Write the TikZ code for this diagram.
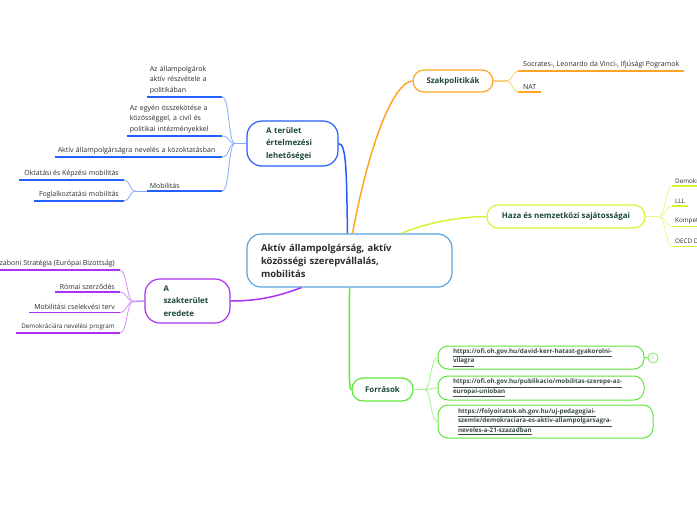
\documentclass[tikz,border=0pt]{standalone}
\usepackage{fontspec}
\setmainfont{Open Sans}
\usepackage{tikz}
\usetikzlibrary{calc}
\definecolor{mmcentral}{RGB}{91,163,220}
\definecolor{mmblue}{RGB}{35,95,255}
\definecolor{mmbluelt}{RGB}{135,170,255}
\definecolor{mmpurple}{RGB}{170,50,240}
\definecolor{mmpurplelt}{RGB}{205,145,250}
\definecolor{mmorange}{RGB}{255,165,35}
\definecolor{mmorangelt}{RGB}{255,205,130}
\definecolor{mmlime}{RGB}{212,245,55}
\definecolor{mmlimelt}{RGB}{230,250,140}
\definecolor{mmgreen}{RGB}{95,228,60}
\definecolor{mmgreenlt}{RGB}{165,240,145}
\definecolor{mmtitle}{RGB}{28,72,58}
\definecolor{mmtext}{RGB}{45,45,45}
\definecolor{mmlink}{RGB}{60,78,70}

\begin{document}
\begin{tikzpicture}[x=1pt, y=-1pt,
  topic/.style={draw, line width=1.2pt, rounded corners=11pt, text=mmtitle,
    font=\fontsize{7.9}{12.5}\selectfont\bfseries, inner ysep=0pt},
  leaf/.style={text=mmtext, font=\fontsize{7}{10.8}\selectfont,
    inner xsep=5pt, inner ysep=2.5pt},
  weblink/.style={draw=mmgreen, line width=1pt, rounded corners=10pt,
    text=mmlink, font=\fontsize{6.3}{9.4}\selectfont\bfseries, align=left,
    inner ysep=0pt},
  branch/.style={line width=1.5pt},
  stub/.style={line width=1.6pt},
  twig/.style={line width=0.8pt},
  uline/.style={line width=1.3pt}]

  \fill[white] (0,0) rectangle (697,520);
  \useasboundingbox (0,0) rectangle (697,520);

  % --- central topic ---
  \node[draw=mmcentral, line width=1.2pt, rounded corners=14pt, text=mmtext,
    font=\fontsize{9.5}{13}\selectfont\bfseries, align=left, text width=177pt,
    inner xsep=14pt, minimum height=53pt] (central) at (349.5,260.5)
    {Aktív állampolgárság, aktív\\közösségi szerepvállalás,\\mobilitás};

  % --- main topics ---
  \node[topic, draw=mmblue, rounded corners=15pt, align=left, text width=53pt,
    inner xsep=19pt, minimum height=45pt] (terulet) at (292.5,143.5)
    {A terület\\értelmezési\\lehetőségei};
  \node[topic, draw=mmpurple, rounded corners=15pt, align=left, text width=48pt,
    inner xsep=18.5pt, minimum height=44pt] (szakter) at (187.5,301)
    {A\\szakterület\\eredete};
  \node[topic, draw=mmorange, minimum width=80pt, minimum height=22pt]
    (szak) at (453,81) {Szakpolitikák};
  \node[topic, draw=mmlime, minimum width=158pt, minimum height=23pt]
    (haza) at (566,216.5) {Haza és nemzetközi sajátosságai};
  \node[topic, draw=mmgreen, minimum width=61pt, minimum height=23pt]
    (forras) at (382.5,389.5) {Források};

  % --- branches from the centre ---
  \draw[mmblue, branch] ($(central.north)+(-2,0)$) .. controls +(-1,-60) and +(8,0) .. (terulet.east);
  \draw[mmorange, branch] ($(central.north)+(3,0)$) .. controls +(17.5,-94) and +(-18,1) .. (szak.west);
  \draw[mmlime, branch] ($(central.north)+(52,0)$) .. controls +(28,-12) and +(-22,0) .. (haza.west);
  \draw[mmpurple, branch] ($(central.south)+(-48,0)$) .. controls +(-22,8) and +(30,0) .. (szakter.east);
  \draw[mmgreen, branch] (central.south) .. controls +(0,85) and +(-3,0) .. (forras.west);

  % --- A terület értelmezési lehetőségei ---
  \node[leaf, anchor=south east, align=left, text width=69pt, inner xsep=3pt]
    (allamp) at (222,97) {Az állampolgárok\\aktív részvétele a\\politikában};
  \node[leaf, anchor=south east, align=left, text width=89pt, inner xsep=3pt]
    (egyen) at (222,136) {Az egyén összekötése a\\közösséggel, a civil és\\politikai intézményekkel};
  \node[leaf, anchor=south east, align=left, text width=161pt, inner xsep=3pt]
    (nevel) at (222,157) {Aktív állampolgárságra nevelés a közoktatásban};
  \node[leaf, anchor=south east, align=left, text width=69pt, inner xsep=3pt]
    (mobil) at (222,191) {Mobilitás};
  \node[leaf, anchor=south east] (oktat) at (124,180) {Oktatási és Képzési mobilitás};
  \node[leaf, anchor=south east] (foglal) at (124,201) {Foglalkoztatási mobilitás};

  \coordinate (tJ) at (235,143.5);
  \draw[mmbluelt, stub] (terulet.west) -- (tJ);
  \foreach \n in {allamp, egyen, nevel, mobil}
    \draw[mmbluelt, twig] (tJ) .. controls +(-7,0) and +(8,0) .. (\n.south east);
  \coordinate (mJ) at (135,191);
  \draw[mmbluelt, twig] (mobil.south west) -- (mJ);
  \foreach \n in {oktat, foglal}
    \draw[mmbluelt, twig] (mJ) .. controls +(-5,0) and +(6,0) .. (\n.south east);
  \foreach \n in {allamp, egyen, nevel, mobil, oktat, foglal}
    \draw[mmblue, uline] (\n.south west) -- (\n.south east);

  % --- A szakterület eredete ---
  \node[leaf, anchor=south east] (lissz) at (120,270) {Lisszaboni Stratégia (Európai Bizottság)};
  \node[leaf, anchor=south east] (romai) at (120,292) {Római szerződés};
  \node[leaf, anchor=south east] (cselek) at (120,312.5) {Mobilitási cselekvési terv};
  \node[leaf, anchor=south east, font=\fontsize{6.3}{9}\selectfont]
    (demprog) at (120,333) {Demokráciára nevelési program};

  \coordinate (pJ) at (133,301.5);
  \draw[mmpurplelt, stub] (szakter.west) -- (pJ);
  \foreach \n in {lissz, romai, cselek, demprog} {
    \draw[mmpurplelt, twig] (pJ) .. controls +(-6,0) and +(7,0) .. (\n.south east);
    \draw[mmpurple, uline] (\n.south west) -- (\n.south east);
  }

  % --- Szakpolitikák ---
  \node[leaf, anchor=south west] (socr) at (518,71) {Socrates-, Leonardo da Vinci-, Ifjúsági Pogramok};
  \node[leaf, anchor=south west] (nat) at (518,92) {NAT};

  \coordinate (oJ) at (507,81);
  \draw[mmorangelt, stub] (szak.east) -- (oJ);
  \foreach \n in {socr, nat} {
    \draw[mmorangelt, twig] (oJ) .. controls +(5,0) and +(-5,0) .. (\n.south west);
    \draw[mmorange, uline] (\n.south west) -- (\n.south east);
  }

  % --- Haza és nemzetközi sajátosságai ---
  \node[leaf, anchor=south west, inner xsep=3pt, font=\fontsize{6.3}{9}\selectfont]
    (demokr) at (672,186) {Demokráciára nevelés};
  \node[leaf, anchor=south west, inner xsep=3pt, font=\fontsize{6.3}{9}\selectfont]
    (lll) at (672,206) {LLL};
  \node[leaf, anchor=south west, inner xsep=3pt, font=\fontsize{6.3}{9}\selectfont]
    (kompet) at (672,226.5) {Kompetenciák};
  \node[leaf, anchor=south west, inner xsep=3pt, font=\fontsize{6.3}{9}\selectfont]
    (oecd) at (672,246.5) {OECD DeSeCo};

  \coordinate (yJ) at (659,216.5);
  \draw[mmlimelt, stub] (haza.east) -- (yJ);
  \foreach \n in {demokr, lll, kompet, oecd} {
    \draw[mmlimelt, twig] (yJ) .. controls +(6,0) and +(-6,0) .. (\n.south west);
    \draw[mmlime, uline] (\n.south west) -- (\n.south east);
  }

  % --- Források ---
  \node[weblink, text width=176pt, inner xsep=15pt, minimum height=23pt] (url1) at (541,357.5)
    {\underline{https://ofi.oh.gov.hu/david-kerr-hatast-gyakorolni-}\\\underline{vilagra}};
  \node[weblink, text width=176pt, inner xsep=15pt, minimum height=24pt] (url2) at (541,388)
    {\underline{https://ofi.oh.gov.hu/publikacio/mobilitas-szerepe-az-}\\\underline{europai-unioban}};
  \node[weblink, text width=175pt, inner xsep=20pt, minimum height=33pt] (url3) at (545.5,421.5)
    {\underline{https://folyoiratok.oh.gov.hu/uj-pedagogiai-}\\\underline{szemle/demokraciara-es-aktiv-allampolgarsagra-}\\\underline{neveles-a-21-szazadban}};
  \node[circle, draw=mmgreen, line width=0.6pt, minimum size=10pt, inner sep=0pt,
    text=mmgreen, font=\fontsize{5}{5}\selectfont] (note) at (653,358) {1};

  \coordinate (gJ) at (425,389.5);
  \draw[mmgreenlt, stub] (forras.east) -- (gJ);
  \foreach \n in {url1, url2, url3}
    \draw[mmgreenlt, twig] (gJ) .. controls +(6,0) and +(-7,0) .. (\n.west);
  \draw[mmgreen, line width=1pt] (url1.east) -- (note);

\end{tikzpicture}
\end{document}
